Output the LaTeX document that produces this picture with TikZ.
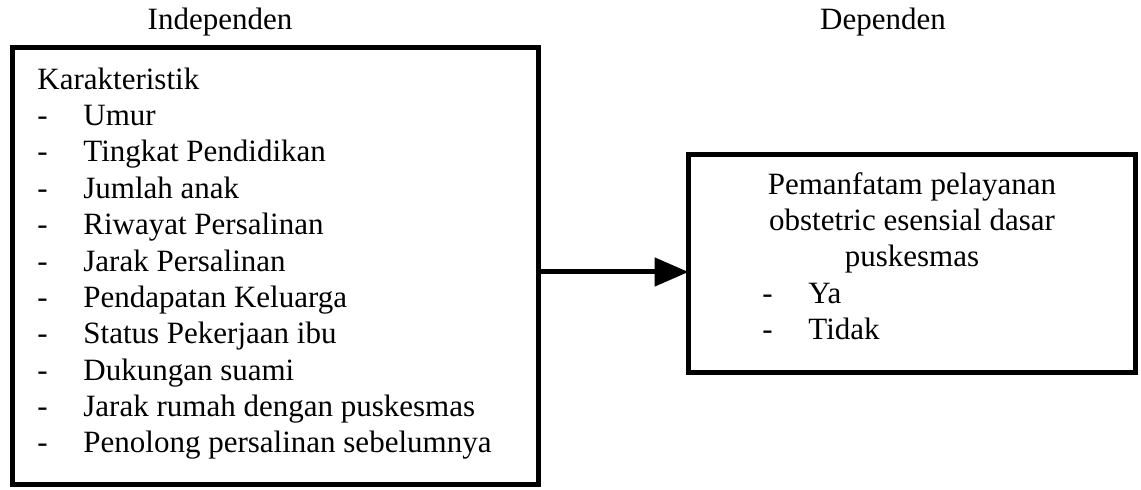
\documentclass[tikz,border=0pt]{standalone}
\usepackage{fontspec}
\setmainfont{Liberation Serif}
\usetikzlibrary{arrows.meta}

\begin{document}
\begin{tikzpicture}[x=0.5pt,y=-0.5pt]
\fontsize{15.5}{18}\selectfont
\tikzset{
  kotak/.style={draw, line width=2.5pt, inner sep=0pt, outer sep=0pt},
  teks/.style={anchor=base west, inner sep=0pt},
  panah/.style={line width=2.5pt, -{Triangle[length=17pt,width=14pt]}}
}
\newcommand\butir[4]{
\node[teks] (d#1) at (#2,#3) {-};
\node[teks] (t#1) at (#2+46,#3) {#4};
}
\useasboundingbox (0,0) rectangle (1141,490);
% kotak
\node[kotak, minimum width=263pt, minimum height=218.5pt] (indep) at (275.5,266) {};
\node[kotak, minimum width=223.5pt, minimum height=109pt] (dep) at (912,263.5) {};
% judul
\node[anchor=base, inner sep=0pt] (jindep) at (220,30) {Independen};
\node[anchor=base, inner sep=0pt] (jdep) at (883,30) {Dependen};
% variabel independen
\node[teks] (karak) at (37,90) {Karakteristik};
\butir{1}{37}{126}{Umur}
\butir{2}{37}{162}{Tingkat Pendidikan}
\butir{3}{37}{199}{Jumlah anak}
\butir{4}{37}{235}{Riwayat Persalinan}
\butir{5}{37}{272}{Jarak Persalinan}
\butir{6}{37}{308}{Pendapatan Keluarga}
\butir{7}{37}{344}{Status Pekerjaan ibu}
\butir{8}{37}{381}{Dukungan suami}
\butir{9}{37}{417}{Jarak rumah dengan puskesmas}
\butir{10}{37}{453}{Penolong persalinan sebelumnya}
% variabel dependen
\node[anchor=base, inner sep=0pt] (dep1) at (912,195) {Pemanfatam pelayanan};
\node[anchor=base, inner sep=0pt] (dep2) at (912,231) {obstetric esensial dasar};
\node[anchor=base, inner sep=0pt] (dep3) at (912,267) {puskesmas};
\butir{11}{762}{304}{Ya}
\butir{12}{762}{340}{Tidak}
% panah
\coordinate (garis) at (0,272);
\draw[panah] (indep.east |- garis) -- (dep.west |- garis);
\end{tikzpicture}
\end{document}
